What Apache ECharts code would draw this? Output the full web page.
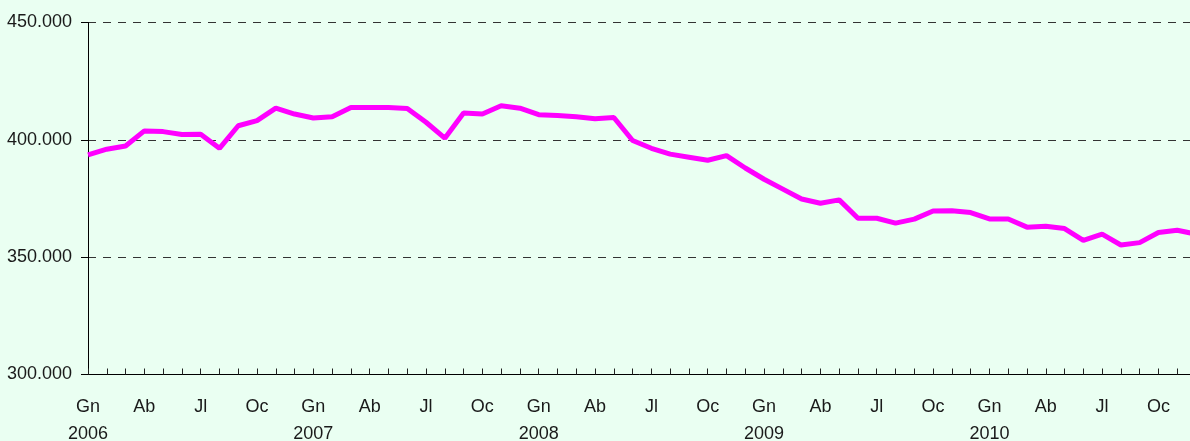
<!DOCTYPE html>
<html>
<head>
<meta charset="utf-8">
<script src="https://cdn.jsdelivr.net/npm/echarts@6/dist/echarts.min.js"></script>
<style>
  html, body { margin: 0; padding: 0; background: #EAFFF2; }
  #chart { width: 1190px; height: 441px; }
</style>
</head>
<body>
<div id="chart"></div>
<script>
// Month abbreviations (Catalan) and years shown on the category axis
const months = ['Gn', 'Fb', 'Mç', 'Ab', 'Mg', 'Jn', 'Jl', 'Ag', 'St', 'Oc', 'Nv', 'Ds'];
const years = [2006, 2007, 2008, 2009, 2010];

// Monthly values, one array per year
const values2006 = [393600, 396000, 397400, 403800, 403500, 402300, 402400, 396400, 406000, 408200, 413500, 411000];
const values2007 = [409300, 409800, 413800, 413800, 413800, 413400, 407500, 400700, 411400, 411000, 414500, 413500];
const values2008 = [410700, 410400, 409800, 409000, 409500, 399700, 396400, 393900, 392600, 391300, 393300, 388000];
const values2009 = [383200, 379000, 374800, 373000, 374400, 366600, 366600, 364500, 366200, 369700, 369800, 369000];
const values2010 = [366300, 366300, 362800, 363200, 362200, 357200, 359800, 355200, 356200, 360500, 361500, 359800];

// Value axis ticks
const yMin = 300000;
const yMax = 450000;
const yStep = 50000;

const categories = [];
years.forEach(() => months.forEach(m => categories.push(m)));
const values = [].concat(values2006, values2007, values2008, values2009, values2010);

function thousands(v) {
  return Math.round(v).toString().replace(/\B(?=(\d{3})+(?!\d))/g, '.');
}

const chart = echarts.init(document.getElementById('chart'), null, { renderer: 'canvas' });
chart.setOption({
  backgroundColor: '#EAFFF2',
  animation: false,
  textStyle: { fontFamily: '"Liberation Sans", Arial, sans-serif' },
  grid: {
    left: 88, right: -6, top: 22.5, bottom: 66.5,
    containLabel: false,
    outerBoundsMode: 'none'
  },
  xAxis: {
    type: 'category',
    data: categories,
    boundaryGap: false,
    axisLine: { show: true, lineStyle: { color: '#000', width: 1 } },
    axisTick: { show: true, inside: true, length: 6, interval: 0, lineStyle: { color: '#222' } },
    axisLabel: {
      interval: (i) => i % 3 === 0,
      margin: 19,
      fontSize: 18,
      lineHeight: 27,
      color: '#1a1a1a',
      formatter: (value, index) => index % 12 === 0 ? value + '\n' + years[Math.floor(index / 12)] : value
    },
    splitLine: { show: false }
  },
  yAxis: {
    type: 'value',
    min: yMin,
    max: yMax,
    interval: yStep,
    axisLine: { show: true, lineStyle: { color: '#000', width: 1 } },
    axisTick: { show: true, inside: false, length: 7, lineStyle: { color: '#000' } },
    axisLabel: {
      margin: 16,
      fontSize: 18,
      color: '#1a1a1a',
      formatter: thousands
    },
    splitLine: { show: true, lineStyle: { color: '#333', width: 1, type: [8, 7] } }
  },
  series: [{
    type: 'line',
    data: values,
    symbol: 'none',
    lineStyle: { color: '#FF00FF', width: 5 },
    itemStyle: { color: '#FF00FF' }
  }]
});
</script>
</body>
</html>
